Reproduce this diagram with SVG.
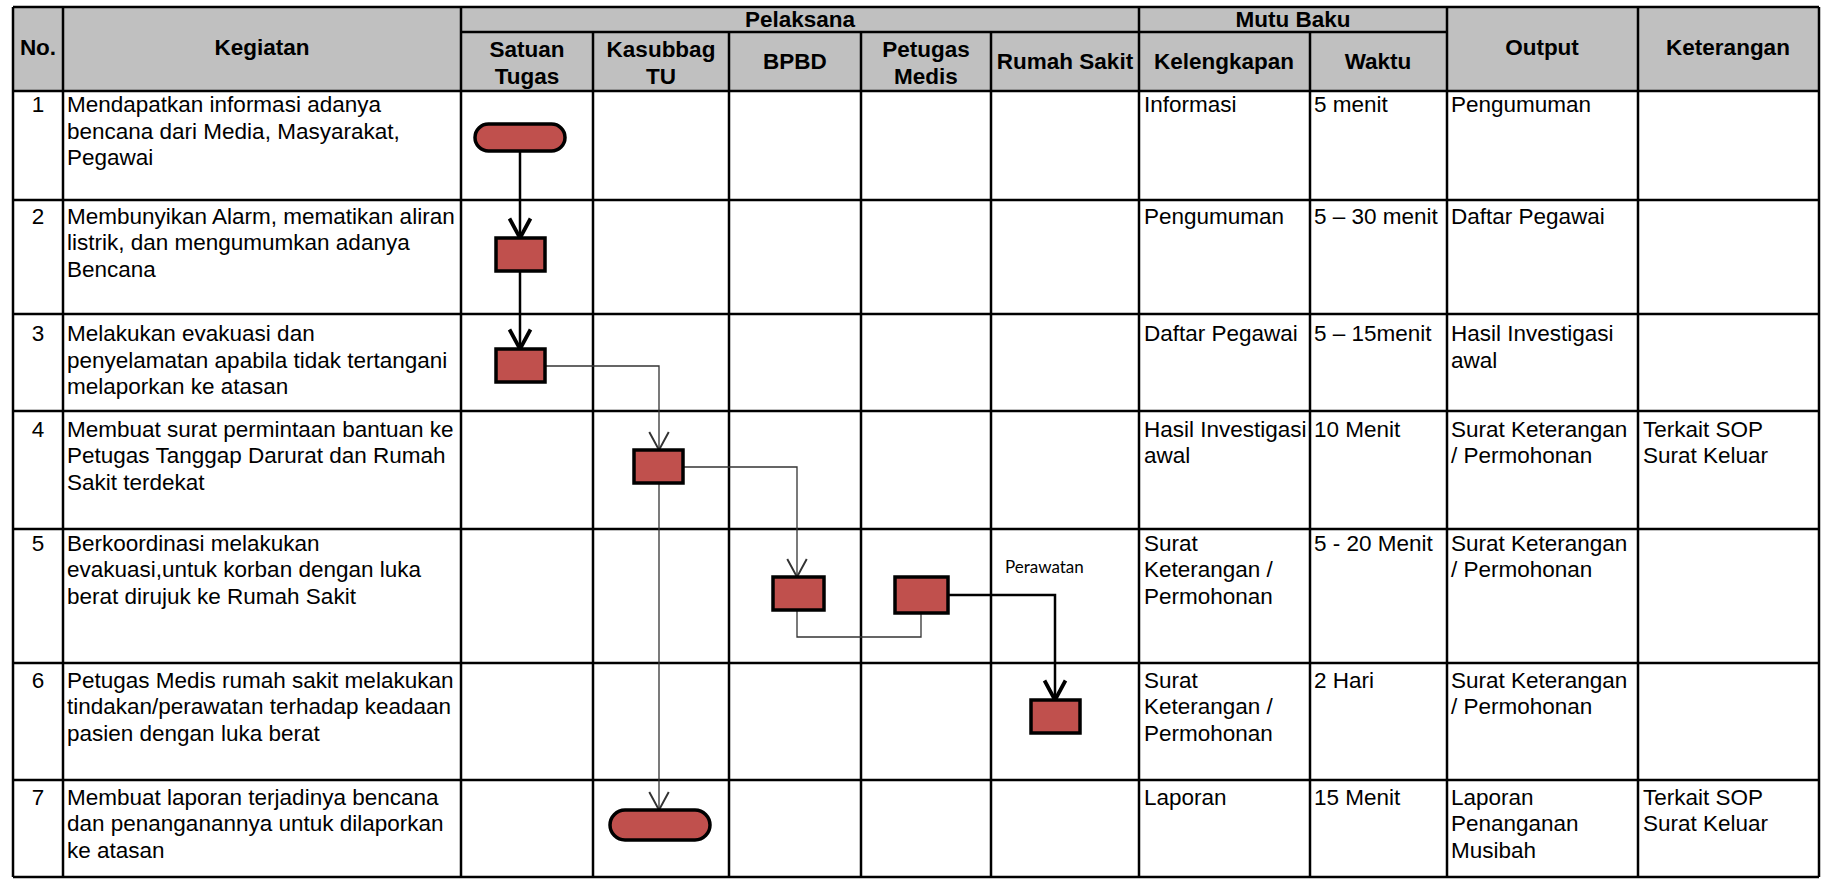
<svg xmlns="http://www.w3.org/2000/svg" width="1822" height="879" viewBox="0 0 1822 879">
<style>
.h{font-family:"Liberation Sans",Arial,sans-serif;font-weight:bold;font-size:22.5px;fill:#000;text-anchor:middle}
.t{font-family:"Liberation Sans",Arial,sans-serif;font-size:22.5px;fill:#000}
.n{font-family:"Liberation Sans",Arial,sans-serif;font-size:22.5px;fill:#000;text-anchor:middle}
.g{stroke:#000;stroke-width:2.5;fill:none}
.box{fill:#C0504D;stroke:#000;stroke-width:3.5}
.thick{stroke:#000;stroke-width:2.5;fill:none}
.thin{stroke:#333;stroke-width:1.3;fill:none}
.lbl{font-family:Lato,"Open Sans",sans-serif;font-size:17px;fill:#000}
</style>
<defs>
<marker id="aThick" markerUnits="userSpaceOnUse" markerWidth="30" markerHeight="30" viewBox="-16 -10 20 20" refX="0" refY="0" orient="auto">
<path d="M-13,-7 L0,0 L-13,7" fill="none" stroke="#000" stroke-width="2.5"/>
</marker>
<marker id="aThin" markerUnits="userSpaceOnUse" markerWidth="30" markerHeight="30" viewBox="-16 -10 20 20" refX="0" refY="0" orient="auto">
<path d="M-12,-6.5 L0,0 L-12,6.5" fill="none" stroke="#333" stroke-width="1.3"/>
</marker>
</defs>
<rect x="0" y="0" width="1822" height="879" fill="#fff"/>
<g id="table">
<rect x="13" y="7" width="1806" height="84" fill="#C0C0C0"/>
<path class="g" d="M13,7H1819M461,32H1447M13,91H1819M13,200H1819M13,314H1819M13,411H1819M13,529H1819M13,663H1819M13,780H1819M13,877H1819"/>
<path class="g" d="M13,7V877M63,7V877M461,7V877M1139,7V877M1447,7V877M1638,7V877M1819,7V877M593,32V877M729,32V877M861,32V877M991,32V877M1310,32V877"/>
<text class="h" x="38" y="55">No.</text>
<text class="h" x="262" y="55">Kegiatan</text>
<text class="h" x="800" y="27">Pelaksana</text>
<text class="h" x="1293" y="27">Mutu Baku</text>
<text class="h" x="527" y="57">Satuan</text>
<text class="h" x="527" y="84">Tugas</text>
<text class="h" x="661" y="57">Kasubbag</text>
<text class="h" x="661" y="84">TU</text>
<text class="h" x="795" y="69">BPBD</text>
<text class="h" x="926" y="57">Petugas</text>
<text class="h" x="926" y="84">Medis</text>
<text class="h" x="1065" y="69">Rumah Sakit</text>
<text class="h" x="1224" y="69">Kelengkapan</text>
<text class="h" x="1378" y="69">Waktu</text>
<text class="h" x="1542" y="55">Output</text>
<text class="h" x="1728" y="55">Keterangan</text>
</g>
<g id="row1">
<text class="n" x="38" y="112">1</text>
<text class="t" x="67" y="112">Mendapatkan informasi adanya</text>
<text class="t" x="67" y="138.7">bencana dari Media, Masyarakat,</text>
<text class="t" x="67" y="165.4">Pegawai</text>
<text class="t" x="1144" y="112">Informasi</text>
<text class="t" x="1314" y="112">5 menit</text>
<text class="t" x="1451" y="112">Pengumuman</text>
</g>
<g id="row2">
<text class="n" x="38" y="223.5">2</text>
<text class="t" x="67" y="223.5">Membunyikan Alarm, mematikan aliran</text>
<text class="t" x="67" y="250.2">listrik, dan mengumumkan adanya</text>
<text class="t" x="67" y="276.9">Bencana</text>
<text class="t" x="1144" y="223.5">Pengumuman</text>
<text class="t" x="1314" y="223.5">5 – 30 menit</text>
<text class="t" x="1451" y="223.5">Daftar Pegawai</text>
</g>
<g id="row3">
<text class="n" x="38" y="341">3</text>
<text class="t" x="67" y="341">Melakukan evakuasi dan</text>
<text class="t" x="67" y="367.7">penyelamatan apabila tidak tertangani</text>
<text class="t" x="67" y="394.4">melaporkan ke atasan</text>
<text class="t" x="1144" y="341">Daftar Pegawai</text>
<text class="t" x="1314" y="341">5 – 15menit</text>
<text class="t" x="1451" y="341">Hasil Investigasi</text>
<text class="t" x="1451" y="367.7">awal</text>
</g>
<g id="row4">
<text class="n" x="38" y="436.5">4</text>
<text class="t" x="67" y="436.5">Membuat surat permintaan bantuan ke</text>
<text class="t" x="67" y="463.2">Petugas Tanggap Darurat dan Rumah</text>
<text class="t" x="67" y="489.9">Sakit terdekat</text>
<text class="t" x="1144" y="436.5">Hasil Investigasi</text>
<text class="t" x="1144" y="463.2">awal</text>
<text class="t" x="1314" y="436.5">10 Menit</text>
<text class="t" x="1451" y="436.5">Surat Keterangan</text>
<text class="t" x="1451" y="463.2">/ Permohonan</text>
<text class="t" x="1643" y="436.5">Terkait SOP</text>
<text class="t" x="1643" y="463.2">Surat Keluar</text>
</g>
<g id="row5">
<text class="n" x="38" y="550.5">5</text>
<text class="t" x="67" y="550.5">Berkoordinasi melakukan</text>
<text class="t" x="67" y="577.2">evakuasi,untuk korban dengan luka</text>
<text class="t" x="67" y="603.9">berat dirujuk ke Rumah Sakit</text>
<text class="t" x="1144" y="550.5">Surat</text>
<text class="t" x="1144" y="577.2">Keterangan /</text>
<text class="t" x="1144" y="603.9">Permohonan</text>
<text class="t" x="1314" y="550.5">5 - 20 Menit</text>
<text class="t" x="1451" y="550.5">Surat Keterangan</text>
<text class="t" x="1451" y="577.2">/ Permohonan</text>
</g>
<g id="row6">
<text class="n" x="38" y="687.5">6</text>
<text class="t" x="67" y="687.5">Petugas Medis rumah sakit melakukan</text>
<text class="t" x="67" y="714.2">tindakan/perawatan terhadap keadaan</text>
<text class="t" x="67" y="740.9">pasien dengan luka berat</text>
<text class="t" x="1144" y="687.5">Surat</text>
<text class="t" x="1144" y="714.2">Keterangan /</text>
<text class="t" x="1144" y="740.9">Permohonan</text>
<text class="t" x="1314" y="687.5">2 Hari</text>
<text class="t" x="1451" y="687.5">Surat Keterangan</text>
<text class="t" x="1451" y="714.2">/ Permohonan</text>
</g>
<g id="row7">
<text class="n" x="38" y="804.5">7</text>
<text class="t" x="67" y="804.5">Membuat laporan terjadinya bencana</text>
<text class="t" x="67" y="831.2">dan penanganannya untuk dilaporkan</text>
<text class="t" x="67" y="857.9">ke atasan</text>
<text class="t" x="1144" y="804.5">Laporan</text>
<text class="t" x="1314" y="804.5">15 Menit</text>
<text class="t" x="1451" y="804.5">Laporan</text>
<text class="t" x="1451" y="831.2">Penanganan</text>
<text class="t" x="1451" y="857.9">Musibah</text>
<text class="t" x="1643" y="804.5">Terkait SOP</text>
<text class="t" x="1643" y="831.2">Surat Keluar</text>
</g>
<g id="connectors">
<path class="thick" d="M520,151V238" marker-end="url(#aThick)"/>
<path class="thick" d="M520,271V349" marker-end="url(#aThick)"/>
<path class="thin" d="M545,366H659V450" marker-end="url(#aThin)"/>
<path class="thin" d="M683,467H797V577" marker-end="url(#aThin)"/>
<path class="thin" d="M797,610V637H921V613"/>
<path class="thick" d="M948,595H1055V700" marker-end="url(#aThick)"/>
<path class="thin" d="M659,483V810" marker-end="url(#aThin)"/>
<text class="lbl" x="1005" y="573">Perawatan</text>
</g>
<g id="n-start"><rect class="box" x="475" y="124" width="90" height="27" rx="13.5"/></g>
<g id="n-alarm"><rect class="box" x="496" y="238" width="49" height="33"/></g>
<g id="n-evakuasi"><rect class="box" x="496" y="349" width="49" height="33"/></g>
<g id="n-surat"><rect class="box" x="634" y="450" width="49" height="33"/></g>
<g id="n-bpbd"><rect class="box" x="773" y="577" width="51" height="33"/></g>
<g id="n-medis"><rect class="box" x="895" y="577" width="53" height="36"/></g>
<g id="n-rs"><rect class="box" x="1031" y="700" width="49" height="33"/></g>
<g id="n-end"><rect class="box" x="610" y="810" width="100" height="30" rx="15"/></g>
</svg>
